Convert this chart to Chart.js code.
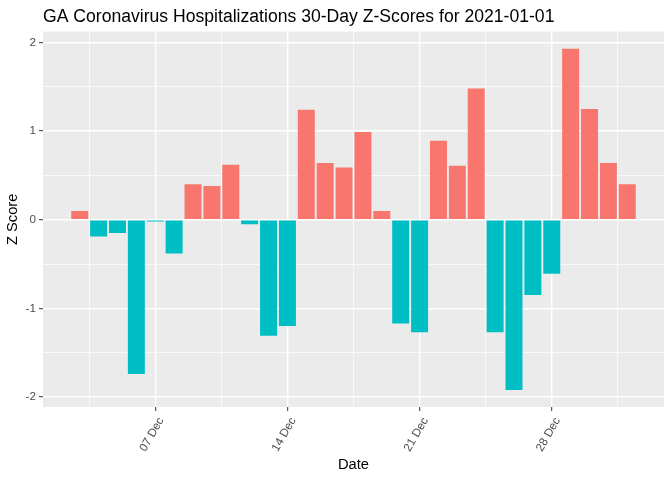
<!DOCTYPE html>
<html>
<head>
<meta charset="utf-8">
<script src="https://cdn.jsdelivr.net/npm/chart.js@4.4.0/dist/chart.umd.min.js"></script>
<style>
  html, body { margin: 0; padding: 0; background: #ffffff; }
  #wrap { width: 672px; height: 480px; }
</style>
</head>
<body>
<div id="wrap"><canvas id="zChart" width="672" height="480"></canvas></div>
<script>
const dates = [
    '2020-12-03', '2020-12-04', '2020-12-05', '2020-12-06', '2020-12-07',
    '2020-12-08', '2020-12-09', '2020-12-10', '2020-12-11', '2020-12-12',
    '2020-12-13', '2020-12-14', '2020-12-15', '2020-12-16', '2020-12-17',
    '2020-12-18', '2020-12-19', '2020-12-20', '2020-12-21', '2020-12-22',
    '2020-12-23', '2020-12-24', '2020-12-25', '2020-12-26', '2020-12-27',
    '2020-12-28', '2020-12-29', '2020-12-30', '2020-12-31', '2021-01-01'
];
const zScores = [
    0.10, -0.19, -0.15, -1.74, -0.02,
    -0.38, 0.40, 0.38, 0.62, -0.05,
    -1.31, -1.20, 1.24, 0.64, 0.59,
    0.99, 0.10, -1.17, -1.27, 0.89,
    0.61, 1.48, -1.27, -1.92, -0.85,
    -0.61, 1.93, 1.25, 0.64, 0.40
];
const xTickDates = ['2020-12-07', '2020-12-14', '2020-12-21', '2020-12-28'];
const xTickLabels = ['07 Dec', '14 Dec', '21 Dec', '28 Dec'];
const yTicks = [-2, -1, 0, 1, 2];

const posColor = '#F8766D';
const negColor = '#00BFC4';

// day number counted from 30 Nov 2020
function dayNum(s) {
    const p = s.split('-').map(Number);
    return (Date.UTC(p[0], p[1] - 1, p[2]) - Date.UTC(2020, 10, 30)) / 86400000;
}

const xs = dates.map(dayNum);
const tickXs = xTickDates.map(dayNum);

// ggplot-like 5% expansion
const xLo = Math.min(...xs) - 0.45, xHi = Math.max(...xs) + 0.45;
const xPad = (xHi - xLo) * 0.05;
const yLo = Math.min(0, ...zScores), yHi = Math.max(0, ...zScores);
const yPad = (yHi - yLo) * 0.05;

// major ticks plus minor ones halfway between
const xStep = tickXs[1] - tickXs[0];
const xGrid = [];
for (let v = tickXs[0] - xStep / 2; v < xHi + xPad; v += xStep / 2) {
    if (v > xLo - xPad) xGrid.push(v);
}
const yGrid = [];
for (let v = yTicks[0] - 0.5; v <= yTicks[yTicks.length - 1] + 0.5; v += 0.5) {
    if (v > yLo - yPad && v < yHi + yPad) yGrid.push(v);
}

function isMajorX(v) {
    return tickXs.some(t => Math.abs(t - v) < 1e-6);
}
function isMajorY(v) {
    return yTicks.some(t => Math.abs(t - v) < 1e-6);
}
function tickVal(ctx) {
    return ctx.tick ? ctx.tick.value : NaN;
}

const panelBg = {
    id: 'panelBg',
    beforeDraw(chart) {
        const a = chart.chartArea;
        const ctx = chart.ctx;
        ctx.save();
        ctx.fillStyle = '#EBEBEB';
        ctx.fillRect(a.left, a.top, a.right - a.left, a.bottom - a.top);
        ctx.restore();
    }
};

const data = {
    datasets: [{
        data: xs.map((x, i) => ({ x: x, y: zScores[i] })),
        backgroundColor: zScores.map(v => v > 0 ? posColor : negColor),
        borderWidth: 0,
        barPercentage: 0.9,
        categoryPercentage: 1.0
    }]
};

const config = {
    type: 'bar',
    data: data,
    plugins: [panelBg],
    options: {
        responsive: false,
        animation: false,
        layout: {
            padding: { left: 0, right: 8, top: 0, bottom: 0 }
        },
        scales: {
            x: {
                type: 'linear',
                offset: false,
                min: xLo - xPad,
                max: xHi + xPad,
                afterBuildTicks: function (scale) {
                    scale.ticks = xGrid.map(v => ({ value: v }));
                },
                afterFit: function (scale) {
                    scale.height = 73;
                },
                ticks: {
                    autoSkip: false,
                    minRotation: 60,
                    maxRotation: 60,
                    padding: 4,
                    labelOffset: 6,
                    color: '#4D4D4D',
                    font: { family: 'Liberation Sans', size: 11.7 },
                    callback: function (value) {
                        const i = tickXs.findIndex(t => Math.abs(t - value) < 1e-6);
                        return i >= 0 ? xTickLabels[i] : '';
                    }
                },
                grid: {
                    offset: false,
                    color: '#FFFFFF',
                    lineWidth: ctx => isMajorX(tickVal(ctx)) ? 1.4 : 0.7,
                    drawTicks: true,
                    tickLength: 4,
                    tickWidth: 1,
                    tickColor: ctx => isMajorX(tickVal(ctx)) ? '#333333' : 'rgba(0,0,0,0)'
                },
                border: { display: false },
                title: {
                    display: true,
                    text: 'Date',
                    color: '#000000',
                    font: { family: 'Liberation Sans', size: 14.7 },
                    padding: { top: 0, bottom: 6 }
                }
            },
            y: {
                type: 'linear',
                min: yLo - yPad,
                max: yHi + yPad,
                afterBuildTicks: function (scale) {
                    scale.ticks = yGrid.map(v => ({ value: v }));
                },
                afterFit: function (scale) {
                    scale.width = 43;
                },
                ticks: {
                    autoSkip: false,
                    padding: 3,
                    color: '#4D4D4D',
                    font: { family: 'Liberation Sans', size: 11.7 },
                    callback: function (value) {
                        return isMajorY(value) ? String(Math.round(value)) : '';
                    }
                },
                grid: {
                    color: '#FFFFFF',
                    lineWidth: ctx => isMajorY(tickVal(ctx)) ? 1.4 : 0.7,
                    drawTicks: true,
                    tickLength: 4,
                    tickWidth: 1,
                    tickColor: ctx => isMajorY(tickVal(ctx)) ? '#333333' : 'rgba(0,0,0,0)'
                },
                border: { display: false },
                title: {
                    display: true,
                    text: 'Z Score',
                    color: '#000000',
                    font: { family: 'Liberation Sans', size: 14.7 },
                    padding: { top: 4, bottom: 0 }
                }
            }
        },
        plugins: {
            legend: { display: false },
            tooltip: { enabled: false },
            title: {
                display: true,
                text: 'GA Coronavirus Hospitalizations 30-Day Z-Scores for 2021-01-01',
                align: 'start',
                fullSize: false,
                color: '#000000',
                font: { family: 'Liberation Sans', size: 17.6, weight: 'normal' },
                padding: { top: 7, bottom: 3.5 }
            }
        }
    }
};

new Chart(document.getElementById('zChart'), config);
</script>
</body>
</html>
